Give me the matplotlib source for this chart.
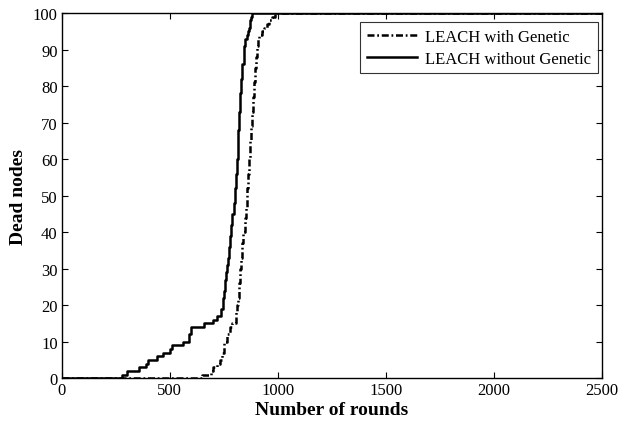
import numpy as np
import matplotlib
matplotlib.use("Agg")
import matplotlib.pyplot as plt

# rounds / dead nodes (step curves)
rounds_with = [0, 645, 650, 690, 700, 720, 730, 740, 752, 765, 778, 790, 805, 810,
               815, 820, 825, 830, 835, 840, 846, 853, 857, 861, 865, 870, 875,
               880, 885, 889, 893, 898, 903, 909, 915, 925, 935, 948, 960, 972,
               985, 2500]
dead_with = [0, 0, 1, 2, 3, 4, 5, 7, 10, 12, 14, 15, 18, 20,
             22, 26, 30, 33, 37, 40, 44, 47, 52, 56, 60, 65, 69,
             73, 77, 81, 85, 88, 91, 93, 94, 95, 96, 97, 98, 99,
             100, 100]

rounds_without = [0, 280, 300, 355, 390, 400, 440, 470, 500, 510, 560, 590, 600, 660,
                  700, 720, 735, 745, 750, 755, 760, 765, 770, 775, 780, 785, 790,
                  797, 802, 806, 810, 814, 817, 820, 825, 830, 836, 843, 849, 855,
                  860, 865, 870, 875, 880, 2500]
dead_without = [0, 1, 2, 3, 4, 5, 6, 7, 8, 9, 10, 12, 14, 15,
                16, 17, 19, 22, 24, 27, 29, 31, 33, 36, 39, 42, 45,
                48, 52, 56, 60, 64, 68, 73, 78, 82, 86, 91, 93, 94,
                95, 96, 98, 99, 100, 100]

x_ticks = [0, 500, 1000, 1500, 2000, 2500]
y_ticks = list(range(0, 101, 10))

plt.rcParams["font.family"] = ["Liberation Serif", "DejaVu Serif"]

fig = plt.figure(figsize=(6.19, 4.27), dpi=100)
ax = fig.add_axes([0.100, 0.112, 0.872, 0.855])

ax.plot(rounds_with, dead_with, color="black", linestyle=(0, (2.8, 1.1, 0.7, 1.1)),
        linewidth=1.8, drawstyle="steps-post", label="LEACH with Genetic")
ax.plot(rounds_without, dead_without, color="black", linestyle="-",
        linewidth=1.8, drawstyle="steps-post", label="LEACH without Genetic")

ax.set_xlim(0, 2500)
ax.set_ylim(0, 100)
ax.set_xticks(x_ticks)
ax.set_yticks(y_ticks)
ax.tick_params(direction="in", top=True, right=True, labelsize=12, length=4, width=0.8, pad=3)
for sp in ax.spines.values():
    sp.set_linewidth(1.0)

ax.set_xlabel("Number of rounds", fontsize=14, fontweight="bold", labelpad=2)
ax.set_ylabel("Dead nodes", fontsize=14, fontweight="bold", labelpad=4)

leg = ax.legend(loc="upper right", bbox_to_anchor=(0.993, 0.975), fontsize=12,
                frameon=True, fancybox=False, edgecolor="black", handlelength=3.0,
                borderpad=0.4, labelspacing=0.35, borderaxespad=0, handletextpad=0.5)
leg.get_frame().set_linewidth(0.8)

fig.savefig("out.png", dpi=100)
